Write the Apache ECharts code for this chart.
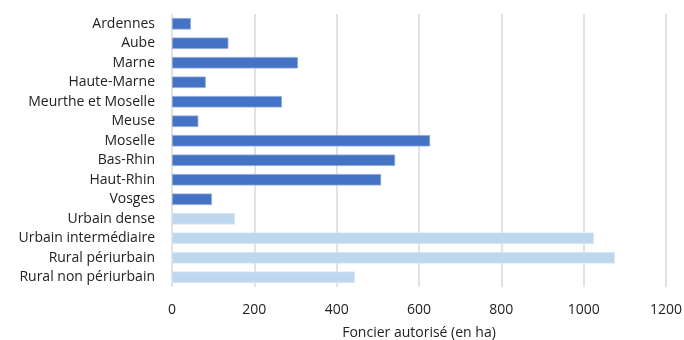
<!DOCTYPE html>
<html>
<head>
<meta charset="utf-8">
<script src="https://cdn.jsdelivr.net/npm/echarts@6/dist/echarts.min.js"></script>
<style>html,body{margin:0;padding:0;background:#fff;}#c{width:684px;height:340px;}</style>
</head>
<body>
<div id="c"></div>
<script>
const departements = ["Ardennes","Aube","Marne","Haute-Marne","Meurthe et Moselle","Meuse","Moselle","Bas-Rhin","Haut-Rhin","Vosges"];
const departementValues = [46,137,306,82,267,64,627,542,508,97];
const typologies = ["Urbain dense","Urbain intermédiaire","Rural périurbain","Rural non périurbain"];
const typologieValues = [153,1025,1076,444];
const xTicks = [0,200,400,600,800,1000,1200];

const categories = departements.concat(typologies);
const data = departementValues.map(v => ({value: v, itemStyle: {color: '#4472C4', borderColor: '#8faadc'}}))
  .concat(typologieValues.map(v => ({value: v, itemStyle: {color: '#BDD7EE', borderColor: '#d6e6f5'}})));

const font = 'Open Sans';
const chart = echarts.init(document.getElementById('c'));
chart.setOption({
  animation: false,
  grid: {left: 172, right: 18, top: 14, bottom: 53, containLabel: false, outerBoundsMode: 'none'},
  xAxis: {
    type: 'value', min: xTicks[0], max: xTicks[xTicks.length-1], interval: 200,
    name: 'Foncier autorisé (en ha)', nameLocation: 'middle', nameGap: 39,
    nameTextStyle: {color: '#222', fontSize: 14, fontFamily: font},
    axisLabel: {color: '#222', fontSize: 14, fontFamily: font, margin: 16, formatter: v => String(v)},
    axisLine: {show: false}, axisTick: {show: false},
    splitLine: {lineStyle: {color: '#d9d9d9', width: 1.5}}
  },
  yAxis: {
    type: 'category', data: categories, inverse: true,
    axisLabel: {color: '#222', fontSize: 14, fontFamily: font, margin: 17},
    axisLine: {show: false}, axisTick: {show: false}
  },
  series: [{
    type: 'bar', data: data, barWidth: 11.5,
    itemStyle: {borderWidth: 0.8}
  }]
});
</script>
</body>
</html>
